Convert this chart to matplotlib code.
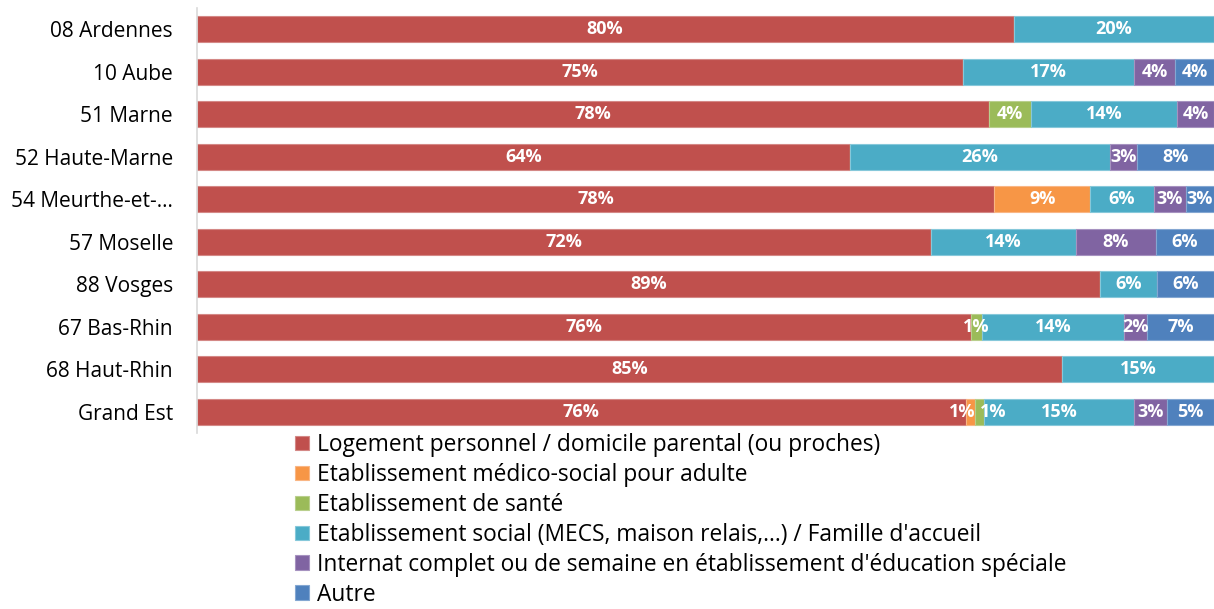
import matplotlib
matplotlib.use("Agg")
import matplotlib.pyplot as plt
import numpy as np

plt.rcParams["font.family"] = ["Open Sans", "DejaVu Sans"]

# categories (top to bottom)
departements = ["08 Ardennes", "10 Aube", "51 Marne", "52 Haute-Marne", "54 Meurthe-et-…",
                "57 Moselle", "88 Vosges", "67 Bas-Rhin", "68 Haut-Rhin", "Grand Est"]

series_names = [
    "Logement personnel / domicile parental (ou proches)",
    "Etablissement médico-social pour adulte",
    "Etablissement de santé",
    "Etablissement social (MECS, maison relais,…) / Famille d'accueil",
    "Internat complet ou de semaine en établissement d'éducation spéciale",
    "Autre",
]

# parts in % per departement
logement = [80.3, 75.3, 77.9, 64.2, 78.4, 72.2, 88.8, 76.1, 85.1, 75.6]
medico_social = [0, 0, 0, 0, 9.4, 0, 0, 0, 0, 0.9]
sante = [0, 0, 4.1, 0, 0, 0, 0, 1.1, 0, 0.9]
social = [19.7, 16.8, 14.4, 25.6, 6.3, 14.2, 5.6, 14.0, 14.9, 14.7]
internat = [0, 4.1, 3.6, 2.6, 3.1, 7.9, 0, 2.2, 0, 3.3]
autre = [0, 3.8, 0, 7.6, 2.8, 5.7, 5.6, 6.6, 0, 4.6]

colors = ["#C0504D", "#F79646", "#9BBB59", "#4BACC6", "#8064A2", "#4F81BD"]
edges = ["#D48886", "#F9B684", "#B9CF8D", "#86C8DA", "#A692C0", "#84A7D2"]

fig = plt.figure(figsize=(12.14, 6.09), dpi=100)
ax = fig.add_axes([0.162, 0.289, 0.838, 0.698])

data = [logement, medico_social, sante, social, internat, autre]
y = np.arange(len(departements))
left = np.zeros(len(departements))
for k, (vals, name, col, ec) in enumerate(zip(data, series_names, colors, edges)):
    vals = np.array(vals, dtype=float)
    ax.barh(y, vals, left=left, height=0.62, color=col, edgecolor=ec,
            linewidth=0.8, label=name)
    for yi, (l, v) in enumerate(zip(left, vals)):
        if v > 0:
            # petits segments voisins : on écarte un peu les étiquettes
            dx = 0
            if v < 1.5 and k == 1:
                dx = -6
            elif v < 1.5 and k == 2 and medico_social[yi] > 0:
                dx = 10
            ax.annotate(f"{v:.0f}%", (l + v / 2, yi), xytext=(dx, 0),
                        textcoords="offset points", ha="center", va="center",
                        color="white", fontsize=13, fontweight="bold")
    left += vals

ax.set_xlim(0, 100)
ax.set_ylim(len(departements) - 0.5, -0.5)
ax.set_yticks(y)
ax.set_yticklabels(departements, fontsize=15)
ax.tick_params(axis="y", length=0, pad=17)
ax.set_xticks([])
for s in ["top", "right", "bottom"]:
    ax.spines[s].set_visible(False)
ax.spines["left"].set_color("#D9D9D9")
ax.spines["left"].set_linewidth(1.2)

fig.legend(loc="upper left", bbox_to_anchor=(0.243, 0.289), frameon=False,
           fontsize=16.4, handlelength=0.6, handleheight=0.6, handletextpad=0.35,
           labelspacing=0.26, borderpad=0, borderaxespad=0)

fig.savefig("out.png", dpi=100)
